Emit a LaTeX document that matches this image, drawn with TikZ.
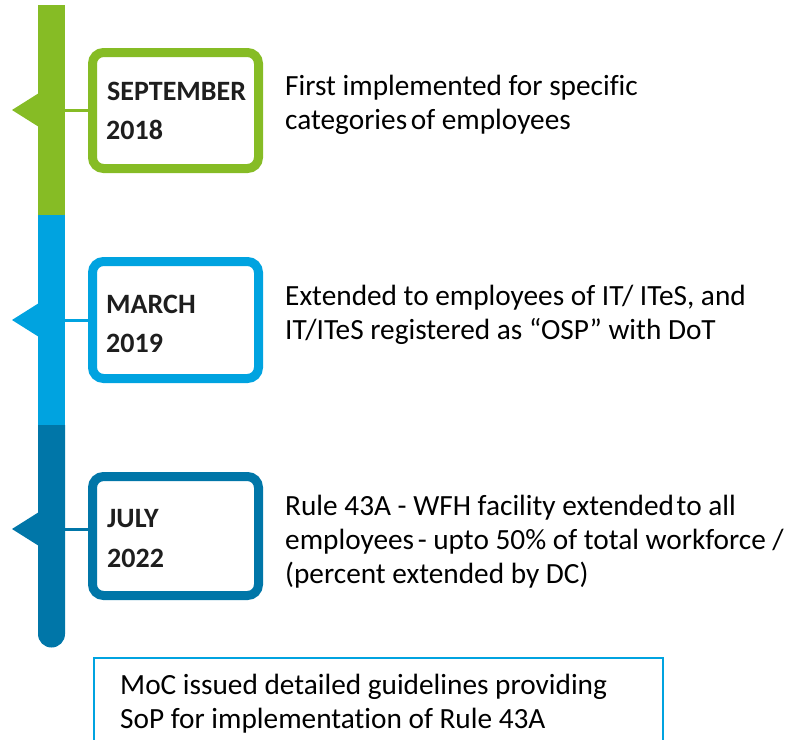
\documentclass[tikz,border=0pt]{standalone}
\usepackage{fontspec}
\setmainfont{Carlito}[Ligatures=NoCommon]
\definecolor{cgreen}{RGB}{134,188,37}
\definecolor{cblue}{RGB}{0,163,224}
\definecolor{cdark}{RGB}{0,118,168}
\definecolor{ctext}{RGB}{30,30,30}
\begin{document}
\begin{tikzpicture}[x=1pt,y=-1pt,
  datebox/.style={draw=#1, line width=9pt, fill=white, rounded corners=11pt},
  datetxt/.style={font=\bfseries\fontsize{28}{34}\selectfont, text=ctext, anchor=base west, inner sep=0pt},
  desc/.style={font=\fontsize{29.3}{34}\selectfont, text=black, anchor=base west, inner sep=0pt},
  link/.style={draw=#1, line width=3pt}]
\useasboundingbox (0,0) rectangle (792,739);
% bar segments
\fill[cgreen] (38,5) rectangle (65,215);
\fill[cblue] (38,215) rectangle (65,425);
\fill[cdark] (38,425) -- (65,425) -- (65,634) arc[start angle=0,end angle=180,radius=13.5] -- cycle;
% pointers
\fill[cgreen] (12,110) -- (39,93) -- (39,127) -- cycle;
\fill[cblue] (12,320) -- (39,303) -- (39,337) -- cycle;
\fill[cdark] (12,529) -- (39,512) -- (39,546) -- cycle;
% boxes
\draw[datebox=cgreen] (92.5,52.5) rectangle (258.5,168.5);
\draw[datebox=cblue] (92.5,261.5) rectangle (258.5,378.5);
\draw[datebox=cdark] (92.5,476.5) rectangle (258.5,595.5);
\coordinate (b1) at (88,110);
\coordinate (b2) at (88,320);
\coordinate (b3) at (88,529);
\coordinate (c1) at (65,110);
\coordinate (c2) at (65,320);
\coordinate (c3) at (65,529);
\draw[link=cgreen] (c1) -- (b1);
\draw[link=cblue] (c2) -- (b2);
\draw[link=cdark] (c3) -- (b3);
\node[datetxt] (t1a) at (107,100) {SEPTEMBER};
\node[datetxt] (t1b) at (106,139) {2018};
\node[datetxt] (t2a) at (106,313) {MARCH};
\node[datetxt] (t2b) at (106,352) {2019};
\node[datetxt] (t3a) at (107,527) {JULY};
\node[datetxt] (t3b) at (107,567) {2022};
% descriptions
\node[desc] (d1a) at (285,95) {First implemented for specific};
\node[desc] (d1b) at (285,129) {categories\hspace{-3pt} of employees};
\node[desc] (d2a) at (285,305) {Extended to employees of IT/ ITeS, and};
\node[desc] (d2b) at (285,339) {IT/ITeS registered as “OSP” with DoT};
\node[desc] (d3a) at (285,515) {Rule 43A - WFH facility extended\hspace{-4pt} to all};
\node[desc] (d3b) at (285,549) {employees\hspace{-3pt} - upto 50\% of total workforce /};
\node[desc] (d3c) at (285,583) {(percent extended by DC)};
% bottom box
\draw[draw=cblue, line width=2pt] (94,750) -- (94,658) -- (663,658) -- (663,750);
\node[desc] (d4a) at (120,694) {MoC issued detailed guidelines providing};
\node[desc] (d4b) at (120,728) {SoP for implementation of Rule 43A};
\end{tikzpicture}
\end{document}
